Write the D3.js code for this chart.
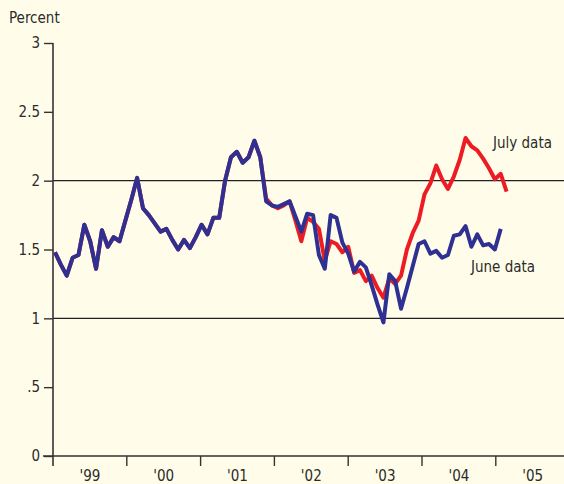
<!DOCTYPE html>
<html>
<head>
<meta charset="utf-8">
<script src="https://cdn.jsdelivr.net/npm/d3@7"></script>
<style>
  html, body { margin: 0; padding: 0; background: #fffdea; }
  svg { display: block; }
  text { font-family: "Liberation Sans Narrow", "Arial Narrow", "DejaVu Sans Condensed", sans-serif; fill: #2b2b2b; }
</style>
</head>
<body>
<svg id="chart" width="564" height="484"></svg>
<script>
// ---- data (monthly, Jan 1999 onward) ----
const juneData = [
  1.48, 1.39, 1.31, 1.44, 1.46, 1.68, 1.56, 1.36, 1.64, 1.52, 1.59, 1.56,
  1.71, 1.86, 2.02, 1.80, 1.75, 1.69, 1.63, 1.65, 1.57, 1.50, 1.57, 1.51,
  1.59, 1.68, 1.61, 1.73, 1.73, 2.00, 2.17, 2.21, 2.13, 2.17, 2.29, 2.17,
  1.85, 1.82, 1.81, 1.83, 1.85, 1.74, 1.63, 1.76, 1.75, 1.46, 1.36, 1.75,
  1.73, 1.55, 1.47, 1.34, 1.41, 1.37, 1.24, 1.10, 0.97, 1.32, 1.27, 1.07,
  1.22, 1.38, 1.54, 1.56, 1.47, 1.49, 1.44, 1.46, 1.60, 1.61, 1.67, 1.52,
  1.61, 1.53, 1.54, 1.50, 1.65
];
const julyData = [
  1.48, 1.39, 1.31, 1.44, 1.46, 1.68, 1.56, 1.36, 1.64, 1.52, 1.59, 1.56,
  1.71, 1.86, 2.02, 1.80, 1.75, 1.69, 1.63, 1.65, 1.57, 1.50, 1.57, 1.51,
  1.59, 1.68, 1.61, 1.73, 1.73, 2.00, 2.17, 2.21, 2.13, 2.17, 2.29, 2.17,
  1.87, 1.82, 1.80, 1.82, 1.85, 1.71, 1.56, 1.73, 1.70, 1.65, 1.42, 1.56,
  1.54, 1.48, 1.52, 1.33, 1.35, 1.27, 1.31, 1.22, 1.15, 1.29, 1.25, 1.31,
  1.50, 1.62, 1.71, 1.90, 1.98, 2.11, 2.01, 1.94, 2.03, 2.15, 2.31, 2.25,
  2.22, 2.16, 2.09, 2.01, 2.05, 1.92
];
const yearLabels = ["'99", "'00", "'01", "'02", "'03", "'04", "'05"];
const yearTicks = [1999, 2000, 2001, 2002, 2003, 2004, 2005, 2006];
const yTicks = [0, 0.5, 1, 1.5, 2, 2.5, 3];
const yTickLabels = ["0", ".5", "1", "1.5", "2", "2.5", "3"];
const gridValues = [1, 2];
const seriesNames = ["July data", "June data"];

// ---- scales ----
const svg = d3.select("#chart");
const W = 564;
const y = d3.scaleLinear().domain([0, 3]).range([456, 43]);
const xMonth = d3.scaleLinear().domain([0, 77]).range([55, 506.6]);
const xYear = d3.scaleLinear().domain([1999, 2006]).range([53, 569.6]);

// gridlines
svg.append("g").selectAll("line").data(gridValues).join("line")
  .attr("x1", 53).attr("x2", W)
  .attr("y1", d => y(d)).attr("y2", d => y(d))
  .attr("stroke", "#222").attr("stroke-width", 1.3);

// y axis
const yAxis = d3.axisLeft(y).tickValues(yTicks)
  .tickFormat((d, i) => yTickLabels[i]).tickSize(9).tickPadding(4);
const gy = svg.append("g").attr("transform", "translate(53,0)").call(yAxis);
gy.select(".domain").remove();
gy.selectAll(".tick line").attr("stroke", "#333").attr("stroke-width", 1.4);
gy.selectAll(".tick text").style("font-size", "15px").attr("fill", "#2b2b2b");
svg.append("line").attr("x1", 53).attr("x2", 53).attr("y1", 43).attr("y2", 466)
  .attr("stroke", "#333").attr("stroke-width", 1.6);

// x axis
svg.append("line").attr("x1", 43).attr("x2", W).attr("y1", 456).attr("y2", 456)
  .attr("stroke", "#333").attr("stroke-width", 1.6);
svg.append("g").selectAll("line").data(yearTicks.slice(1, 7)).join("line")
  .attr("x1", d => xYear(d)).attr("x2", d => xYear(d))
  .attr("y1", 456).attr("y2", 466)
  .attr("stroke", "#333").attr("stroke-width", 1.4);
svg.append("g").selectAll("text").data(yearLabels).join("text")
  .attr("x", (d, i) => xYear(yearTicks[i] + 0.5))
  .attr("y", 481)
  .attr("text-anchor", "middle")
  .style("font-size", "15px")
  .text(d => d);

// title
svg.append("text").attr("x", 9).attr("y", 23).style("font-size", "15px").text("Percent");

// lines
const line = d3.line().x((d, i) => xMonth(i)).y(d => y(d)).curve(d3.curveLinear);
svg.append("path").datum(julyData).attr("d", line)
  .attr("fill", "none").attr("stroke", "#ed1c24").attr("stroke-width", 4)
  .attr("stroke-linejoin", "round");
svg.append("path").datum(juneData).attr("d", line)
  .attr("fill", "none").attr("stroke", "#2e3192").attr("stroke-width", 4)
  .attr("stroke-linejoin", "round");

// series labels
svg.append("text").attr("x", 493).attr("y", 148).style("font-size", "15px").text(seriesNames[0]);
svg.append("text").attr("x", 471).attr("y", 272).style("font-size", "15px").text(seriesNames[1]);
</script>
</body>
</html>
